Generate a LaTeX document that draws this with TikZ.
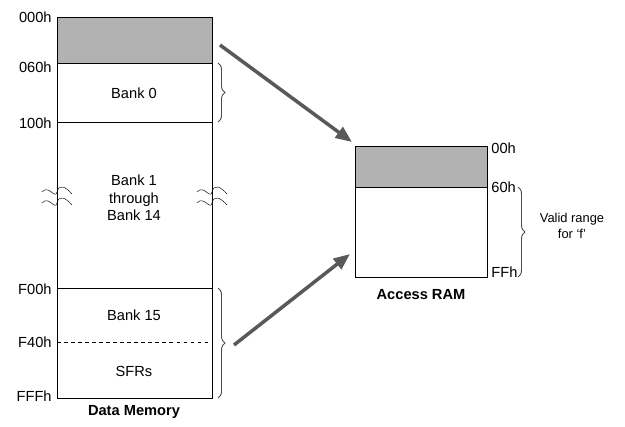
\documentclass[tikz,border=0pt]{standalone}
\usepackage{fontspec}
\setmainfont{Liberation Sans}
\usetikzlibrary{decorations.pathreplacing,arrows.meta}
\begin{document}
\begin{tikzpicture}[x=0.03cm,y=-0.03cm,font=\fontsize{12.5}{15}\selectfont]
        \tikzstyle{addr}=[anchor=east,inner sep=1pt]
        \tikzstyle{brace}=[decorate,decoration={brace,amplitude=6pt},thick,black!70]
        \tikzstyle{bigarrow}=[line width=3pt,gray!70!black,-{Triangle[length=14pt,width=11pt]}]
        \tikzstyle{wig}=[thin]
        \useasboundingbox (0,0) rectangle (625,426);
        % data memory
        \fill [gray!60] (57,17) rectangle (212,63);
        \draw (57,17) rectangle (212,398);
        \draw (57,63) -- (212,63);
        \draw (57,122) -- (212,122);
        \draw (57,288) -- (212,288);
        \draw [dashed] (57,342) -- (212,342);
        \foreach \x in {57,212} {
          \foreach \y in {192,203}
            \draw [wig] (\x-15,\y) .. controls (\x-8,\y-8) and (\x-2,\y+8) .. (\x,\y) .. controls (\x+2,\y-8) and (\x+8,\y-6) .. (\x+15,\y+2);
        }
        \node at (134,93) {Bank 0};
        \node [align=center] at (134,198) {Bank 1\\through\\Bank 14};
        \node at (134,315) {Bank 15};
        \node at (134,371) {SFRs};
        \node [font=\fontsize{12.5}{15}\selectfont\bfseries] (dm) at (134,412) {Data Memory};
        \node [addr] (a000) at (53,17) {000h};
        \node [addr] (a060) at (53,67) {060h};
        \node [addr] (a100) at (53,123) {100h};
        \node [addr] (aF00) at (53,289) {F00h};
        \node [addr] (aF40) at (53,342) {F40h};
        \node [addr] (aFFF) at (53,396) {FFFh};
        % access ram
        \fill [gray!60] (355,146) rectangle (487,187);
        \draw (355,146) rectangle (487,277);
        \draw (355,187) -- (487,187);
        \node [anchor=west,inner sep=1pt] (r00) at (490,148) {00h};
        \node [anchor=west,inner sep=1pt] (r60) at (490,187) {60h};
        \node [anchor=west,inner sep=1pt] (rFF) at (490,272) {FFh};
        \node [font=\fontsize{12.5}{15}\selectfont\bfseries] (ar) at (421,295) {Access RAM};
        \node [align=center,font=\fontsize{11}{13}\selectfont] (valid) at (572,226) {Valid range\\for `f'};
        % braces
        \coordinate (b0t) at (218,63);
        \coordinate (b0b) at (218,122);
        \coordinate (b15t) at (218,288);
        \coordinate (b15b) at (218,398);
        \coordinate (rt) at (518,187);
        \coordinate (rb) at (518,277);
        \draw [brace] (b0t) -- (b0b);
        \draw [brace] (b15t) -- (b15b);
        \draw [brace] (rt) -- (rb);
        % arrows
        \coordinate (s1) at (220,45);
        \coordinate (e1) at (352,142);
        \coordinate (s2) at (234,345);
        \coordinate (e2) at (350,254);
        \draw [bigarrow] (s1) -- (e1);
        \draw [bigarrow] (s2) -- (e2);
\end{tikzpicture}
\end{document}
